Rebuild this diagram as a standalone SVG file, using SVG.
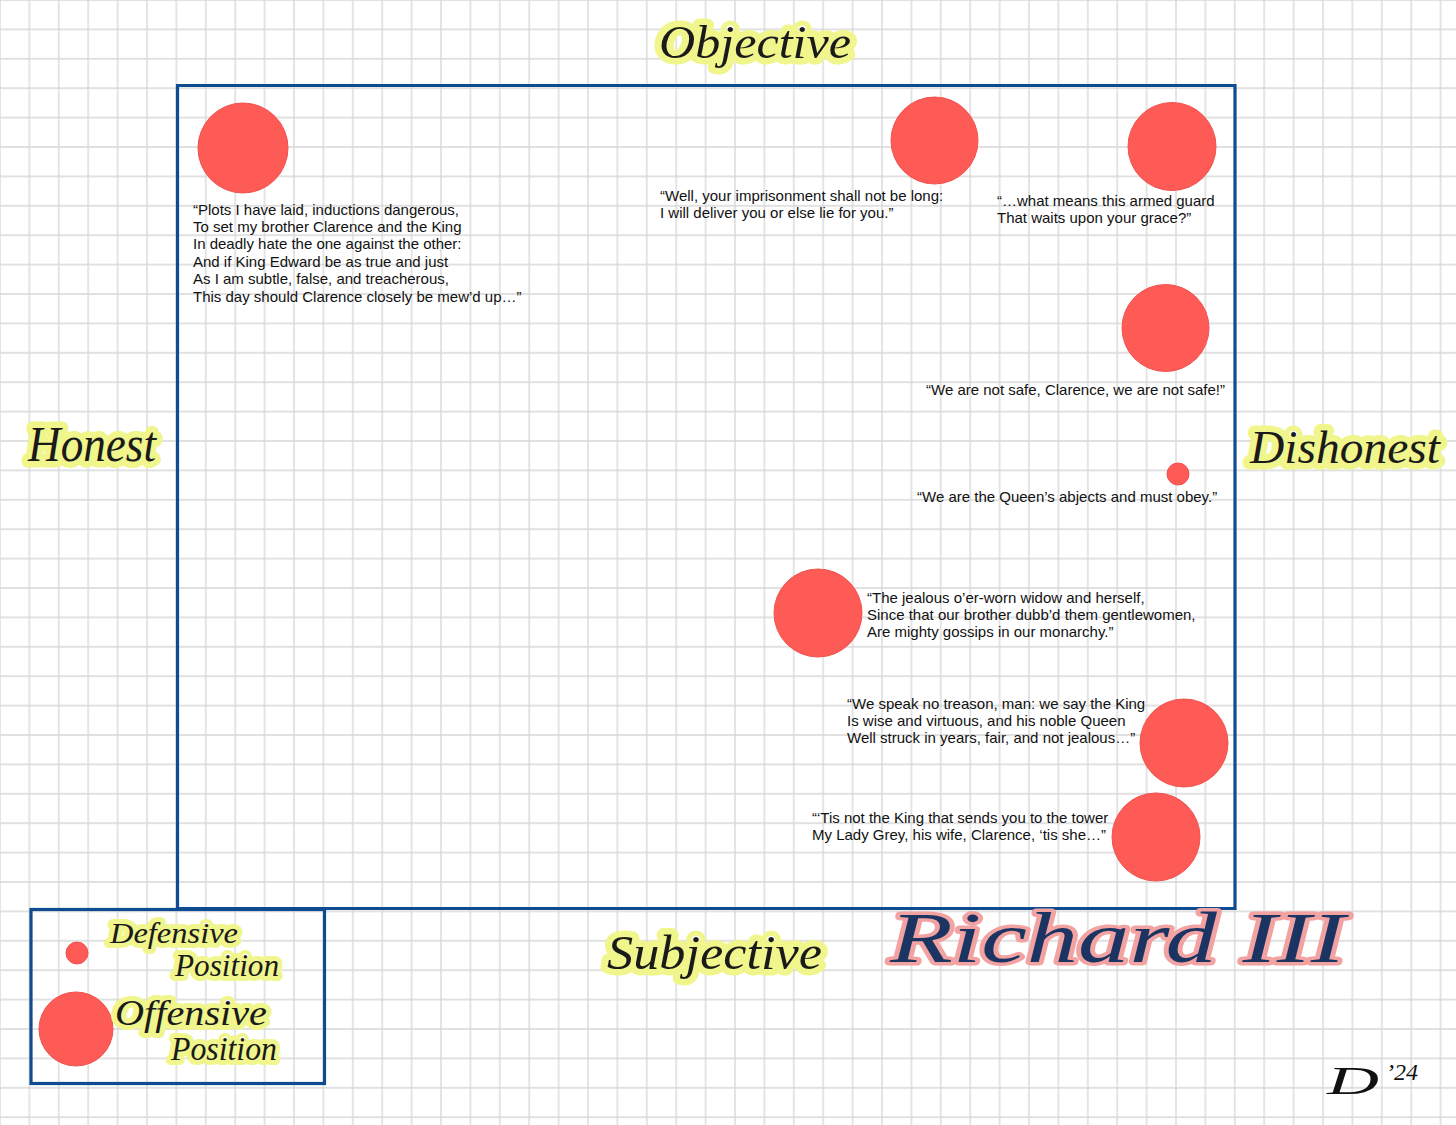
<svg xmlns="http://www.w3.org/2000/svg" width="1456" height="1125" viewBox="0 0 1456 1125">
<style>
.q{font-family:"Liberation Sans",Arial,sans-serif;font-size:15px;fill:#111}
.hw{font-family:"Liberation Serif","DejaVu Serif",serif;font-style:italic;fill:#1a1a1a;stroke:#f0f58c;stroke-width:13;stroke-linejoin:round;stroke-linecap:round;paint-order:stroke}
.dot{fill:#fe5b57;stroke:#ef524f;stroke-width:1}
.frame{fill:none;stroke:#0e4b90;stroke-width:3.2}
.title{font-family:"Liberation Serif","DejaVu Serif",serif;font-style:italic;fill:#1b3462;stroke:#f3a2a2;stroke-width:7;stroke-linejoin:round;paint-order:stroke}
.sig{font-family:"Liberation Serif","DejaVu Serif",serif;font-style:italic;fill:#111}
</style>
<defs>
<pattern id="grid" patternUnits="userSpaceOnUse" x="14.7" y="14.7" width="29.4" height="29.4">
<path d="M14.7 0V29.4M0 14.7H29.4" stroke="#d7d7d7" stroke-width="1.3" fill="none"/>
</pattern>
</defs>
<rect width="1456" height="1125" fill="#ffffff"/>
<rect width="1456" height="1125" fill="url(#grid)"/>

<g id="frames">
<path class="frame" d="M177.5 909V85.5H1235V908.5H177.5"/>
<rect id="legend-box" class="frame" x="31" y="909.5" width="293.5" height="174"/>
</g>

<g id="axis-labels">
<text id="objective" class="hw" x="659" y="58" font-size="46" textLength="192" lengthAdjust="spacingAndGlyphs">Objective</text>
<text id="honest" class="hw" x="28" y="461" font-size="50" textLength="128" lengthAdjust="spacingAndGlyphs">Honest</text>
<text id="dishonest" class="hw" x="1250" y="463" font-size="46" textLength="190" lengthAdjust="spacingAndGlyphs">Dishonest</text>
<text id="subjective" class="hw" x="607" y="969" font-size="48" textLength="215" lengthAdjust="spacingAndGlyphs">Subjective</text>
</g>

<g id="n1">
<circle class="dot" cx="243" cy="148" r="45"/>
<text class="q" x="193" y="214.5"><tspan x="193">“Plots I have laid, inductions dangerous,</tspan><tspan x="193" dy="17.4">To set my brother Clarence and the King</tspan><tspan x="193" dy="17.4">In deadly hate the one against the other:</tspan><tspan x="193" dy="17.4">And if King Edward be as true and just</tspan><tspan x="193" dy="17.4">As I am subtle, false, and treacherous,</tspan><tspan x="193" dy="17.4">This day should Clarence closely be mew’d up…”</tspan></text>
</g>

<g id="n2">
<circle class="dot" cx="934.5" cy="140.5" r="43.5"/>
<text class="q" x="660" y="200.5"><tspan x="660">“Well, your imprisonment shall not be long:</tspan><tspan x="660" dy="17.4">I will deliver you or else lie for you.”</tspan></text>
</g>

<g id="n3">
<circle class="dot" cx="1172" cy="146.5" r="44"/>
<text class="q" x="997" y="206"><tspan x="997">“…what means this armed guard</tspan><tspan x="997" dy="17.4">That waits upon your grace?”</tspan></text>
</g>

<g id="n4">
<circle class="dot" cx="1165.5" cy="328" r="43.5"/>
<text class="q" x="926" y="395">“We are not safe, Clarence, we are not safe!”</text>
</g>

<g id="n5">
<circle class="dot" cx="1178" cy="474" r="11"/>
<text class="q" x="917" y="502">“We are the Queen’s abjects and must obey.”</text>
</g>

<g id="n6">
<circle class="dot" cx="818" cy="613" r="44"/>
<text class="q" x="867" y="602.5"><tspan x="867">“The jealous o’er-worn widow and herself,</tspan><tspan x="867" dy="17.4">Since that our brother dubb’d them gentlewomen,</tspan><tspan x="867" dy="17.4">Are mighty gossips in our monarchy.”</tspan></text>
</g>

<g id="n7">
<circle class="dot" cx="1184" cy="743" r="44"/>
<text class="q" x="847" y="708.5"><tspan x="847">“We speak no treason, man: we say the King</tspan><tspan x="847" dy="17.4">Is wise and virtuous, and his noble Queen</tspan><tspan x="847" dy="17.4">Well struck in years, fair, and not jealous…”</tspan></text>
</g>

<g id="n8">
<circle class="dot" cx="1156" cy="837" r="44"/>
<text class="q" x="812" y="823"><tspan x="812">“‘Tis not the King that sends you to the tower</tspan><tspan x="812" dy="17.4">My Lady Grey, his wife, Clarence, ‘tis she…”</tspan></text>
</g>

<g id="legend">
<circle class="dot" cx="77" cy="953" r="11"/>
<circle class="dot" cx="76" cy="1029" r="37"/>
<text class="hw" x="110" y="943" font-size="30" textLength="128" lengthAdjust="spacingAndGlyphs" style="stroke-width:10">Defensive</text>
<text class="hw" x="175" y="976" font-size="31" textLength="104" lengthAdjust="spacingAndGlyphs" style="stroke-width:10">Position</text>
<text class="hw" x="115" y="1025" font-size="35" textLength="152" lengthAdjust="spacingAndGlyphs" style="stroke-width:10">Offensive</text>
<text class="hw" x="171" y="1060" font-size="33" textLength="106" lengthAdjust="spacingAndGlyphs" style="stroke-width:10">Position</text>
</g>

<g id="title">
<text class="title" x="890" y="962" font-size="72" textLength="455" lengthAdjust="spacingAndGlyphs">Richard III</text>
</g>

<g id="signature">
<text class="sig" x="1327" y="1094" font-size="40" textLength="52" lengthAdjust="spacingAndGlyphs">D</text>
<text class="sig" x="1386" y="1080" font-size="24">’24</text>
</g>
</svg>
